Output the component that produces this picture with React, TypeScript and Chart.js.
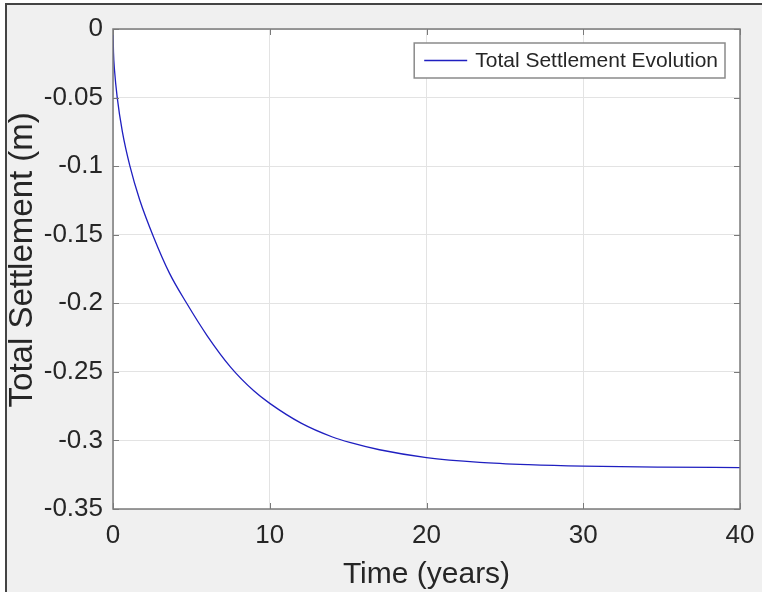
import React, { useEffect, useRef } from "react";
import { Chart, registerables } from "chart.js";

Chart.register(...registerables);

const timeYears = [0, 0.03, 0.1, 0.27, 0.6, 1.08, 1.7, 2.6, 3.6, 4.7, 6, 7.5, 9, 10, 12, 14, 15.1, 17, 20, 23.4, 26.5, 30, 35, 40];
const settlement = [0, -0.0167, -0.0304, -0.05, -0.075, -0.1, -0.1245, -0.152, -0.178, -0.2, -0.2235, -0.2465, -0.264, -0.273, -0.2874, -0.2975, -0.3015, -0.3068, -0.3125, -0.316, -0.3177, -0.3188, -0.3195, -0.3198];
const seriesLabel = "Total Settlement Evolution";
const xTitle = "Time (years)";
const yTitle = "Total Settlement (m)";

const FONT = "'Liberation Sans', Arial, Helvetica, sans-serif";
const TEXT = "#262626";
const AXIS = "#7a7a7a";
const LINE = "#1f1fc0";

const matlabPlugin = {
  id: "matlabBox",
  beforeDraw(chart: any) {
    const { ctx, chartArea: a } = chart;
    ctx.save();
    ctx.fillStyle = "#ffffff";
    ctx.fillRect(a.left, a.top, a.right - a.left, a.bottom - a.top);
    ctx.restore();
  },
  afterDraw(chart: any) {
    const { ctx, chartArea: a, scales } = chart;
    const xs = scales.x;
    const ys = scales.y;
    ctx.save();
    ctx.strokeStyle = AXIS;
    ctx.lineWidth = 1.5;
    ctx.strokeRect(a.left, a.top, a.right - a.left, a.bottom - a.top);
    const tl = 6;
    ctx.lineWidth = 1;
    ctx.beginPath();
    xs.ticks.forEach((t: any) => {
      const px = Math.round(xs.getPixelForValue(t.value)) + 0.5;
      ctx.moveTo(px, a.bottom);
      ctx.lineTo(px, a.bottom - tl);
      ctx.moveTo(px, a.top);
      ctx.lineTo(px, a.top + tl);
    });
    ys.ticks.forEach((t: any) => {
      const py = Math.round(ys.getPixelForValue(t.value)) + 0.5;
      ctx.moveTo(a.left, py);
      ctx.lineTo(a.left + tl, py);
      ctx.moveTo(a.right, py);
      ctx.lineTo(a.right - tl, py);
    });
    ctx.stroke();

    // legend
    const ds = chart.data.datasets[0];
    ctx.font = `21px ${FONT}`;
    const tw = ctx.measureText(ds.label).width;
    const boxRight = a.right - 15;
    const boxTop = a.top + 14;
    const boxH = 35;
    const boxLeft = boxRight - 7 - tw - 8 - 43 - 10;
    ctx.fillStyle = "#ffffff";
    ctx.fillRect(boxLeft, boxTop, boxRight - boxLeft, boxH);
    ctx.strokeStyle = "#8a8a8a";
    ctx.lineWidth = 1.5;
    ctx.strokeRect(boxLeft, boxTop, boxRight - boxLeft, boxH);
    const midY = boxTop + boxH / 2;
    ctx.strokeStyle = ds.borderColor;
    ctx.lineWidth = 1.3;
    ctx.beginPath();
    ctx.moveTo(boxLeft + 10, midY);
    ctx.lineTo(boxLeft + 53, midY);
    ctx.stroke();
    ctx.fillStyle = TEXT;
    ctx.textBaseline = "middle";
    ctx.textAlign = "left";
    ctx.fillText(ds.label, boxLeft + 61, midY + 1);
    ctx.restore();
  },
};

function fmt(v: number) {
  const n = Number(Number(v).toFixed(2));
  return n === 0 ? "0" : String(n);
}

export default function App() {
  const ref = useRef<HTMLCanvasElement | null>(null);
  useEffect(() => {
    if (!ref.current) return;
    const chart = new Chart(ref.current, {
      type: "line",
      data: {
        datasets: [
          {
            label: seriesLabel,
            data: timeYears.map((t, i) => ({ x: t, y: settlement[i] })),
            borderColor: LINE,
            borderWidth: 1.3,
            pointRadius: 0,
            fill: false,
            cubicInterpolationMode: "monotone",
          },
        ],
      },
      options: {
        animation: false,
        responsive: false,
        devicePixelRatio: 1,
        layout: { padding: { top: 29, right: 22, left: 0, bottom: 0 } },
        plugins: { legend: { display: false }, tooltip: { enabled: false } },
        scales: {
          x: {
            type: "linear",
            min: 0,
            max: 40,
            afterFit: (s: any) => {
              s.height = 83;
              s.paddingLeft = 0;
              s.paddingRight = 0;
            },
            ticks: {
              stepSize: 10,
              color: TEXT,
              font: { family: FONT, size: 26, lineHeight: 1.2 },
              padding: 11,
              maxRotation: 0,
              callback: (v: any) => fmt(v),
            },
            grid: { color: "#e3e3e3", drawTicks: false, lineWidth: 1 },
            border: { display: false },
            title: {
              display: true,
              text: xTitle,
              color: TEXT,
              font: { family: FONT, size: 30, lineHeight: 1 },
              padding: { top: 0, bottom: 2 },
            },
          },
          y: {
            type: "linear",
            min: -0.35,
            max: 0,
            afterFit: (s: any) => {
              s.width = 113;
              s.paddingTop = 0;
              s.paddingBottom = 0;
            },
            ticks: {
              stepSize: 0.05,
              color: TEXT,
              font: { family: FONT, size: 26, lineHeight: 1.2 },
              padding: 10,
              callback: (v: any) => fmt(v),
            },
            grid: { color: "#e3e3e3", drawTicks: false, lineWidth: 1 },
            border: { display: false },
            title: {
              display: true,
              text: "  " + yTitle,
              color: TEXT,
              font: { family: FONT, size: 33, lineHeight: 1 },
              padding: { top: 6, bottom: 0 },
            },
          },
        },
      },
      plugins: [matlabPlugin],
    } as any);
    return () => chart.destroy();
  }, []);

  return (
    <div
      style={{
        position: "fixed",
        left: 0,
        top: 0,
        width: 762,
        height: 592,
        background: "#ffffff",
        overflow: "hidden",
      }}
    >
      <div
        style={{
          position: "absolute",
          left: 5,
          top: 3,
          right: 0,
          bottom: 0,
          background: "#f0f0f0",
          borderLeft: "2px solid #444444",
          borderTop: "2px solid #444444",
        }}
      />
      <canvas
        ref={ref}
        width={762}
        height={592}
        style={{ position: "absolute", left: 0, top: 0, width: 762, height: 592 }}
      />
    </div>
  );
}
